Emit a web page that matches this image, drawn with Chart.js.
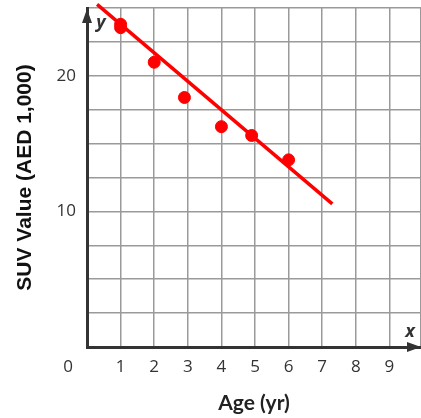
<!DOCTYPE html>
<html>
<head>
<meta charset="utf-8">
<script src="https://cdn.jsdelivr.net/npm/chart.js@4/dist/chart.umd.min.js"></script>
<style>
  html, body { margin: 0; padding: 0; background: #fff; }
  #wrap { width: 421px; height: 418px; }
</style>
</head>
<body>
<div id="wrap"><canvas id="chart" width="421" height="418"></canvas></div>
<script>
// SUV resale value by age, with a line of fit
const ages = [1, 1, 2, 2.9, 4, 4.9, 6];
const values = [23.8, 23.55, 21.0, 18.4, 16.25, 15.6, 13.8];
const fitAges = [0.3, 7.3];
const fitValues = [25.27, 10.56];
const xTickLabels = ['1', '2', '3', '4', '5', '6', '7', '8', '9'];
const yTickLabels = ['10', '20'];
const xGridValues = [0, 1, 2, 3, 4, 5, 6, 7, 8, 9, 9.94];

const RED = '#ff0000';
const INK = '#333333';

// keep the plot area flush with the canvas edges
function noEdgePadding(scale) {
  scale.paddingTop = 0;
  scale.paddingBottom = 0;
  scale.paddingLeft = 0;
  scale.paddingRight = 0;
}

// Arrowheads, axis letters and the shared origin label
const axisDecor = {
  id: 'axisDecor',
  afterDraw(chart) {
    const { ctx, chartArea } = chart;
    const x0 = chart.scales.x.getPixelForValue(0);
    const y0 = chart.scales.y.getPixelForValue(0);
    ctx.save();
    ctx.fillStyle = INK;
    // y axis arrow
    ctx.beginPath();
    ctx.moveTo(x0, chartArea.top + 1);
    ctx.lineTo(x0 - 5, chartArea.top + 15);
    ctx.lineTo(x0 + 5, chartArea.top + 15);
    ctx.closePath();
    ctx.fill();
    // x axis arrow
    ctx.beginPath();
    ctx.moveTo(chartArea.right, y0);
    ctx.lineTo(chartArea.right - 14, y0 - 5);
    ctx.lineTo(chartArea.right - 14, y0 + 5);
    ctx.closePath();
    ctx.fill();
    // axis letters
    ctx.font = 'italic bold 18px "Open Sans"';
    ctx.textAlign = 'center';
    ctx.textBaseline = 'middle';
    ctx.fillText('y', x0 + 14, chartArea.top + 15);
    ctx.fillText('x', chartArea.right - 11, y0 - 15);
    // origin
    ctx.font = '17px "Open Sans"';
    ctx.fillText('0', x0 - 19, y0 + 20);
    ctx.restore();
  }
};

new Chart(document.getElementById('chart'), {
  type: 'scatter',
  data: {
    datasets: [
      {
        type: 'line',
        data: fitAges.map((a, i) => ({ x: a, y: fitValues[i] })),
        borderColor: RED,
        borderWidth: 3.5,
        pointRadius: 0,
        fill: false,
        clip: false,
        order: 2
      },
      {
        data: ages.map((a, i) => ({ x: a, y: values[i] })),
        backgroundColor: RED,
        borderColor: RED,
        pointRadius: 6,
        pointHoverRadius: 6,
        clip: false,
        order: 1
      }
    ]
  },
  options: {
    responsive: false,
    animation: false,
    events: [],
    layout: { autoPadding: false, padding: { top: 8, right: 0, bottom: 0, left: 0 } },
    plugins: { legend: { display: false }, tooltip: { enabled: false } },
    scales: {
      x: {
        type: 'linear',
        min: 0,
        max: 9.94,
        afterBuildTicks(scale) { scale.ticks = xGridValues.map((v) => ({ value: v })); },
        afterFit(scale) { scale.height = 71; noEdgePadding(scale); },
        grid: { color: '#9a9a9a', lineWidth: 1.5, drawTicks: false },
        border: { display: true, color: INK, width: 3 },
        ticks: {
          padding: 10,
          autoSkip: false,
          maxRotation: 0,
          color: INK,
          font: { family: 'Open Sans', size: 17 },
          callback: (v) => xTickLabels.includes(String(v)) ? String(v) : ''
        },
        title: {
          display: true,
          text: 'Age (yr)',
          color: '#222',
          font: { family: 'Lato', size: 21, weight: 'bold' },
          padding: { top: 0, bottom: 2 }
        }
      },
      y: {
        type: 'linear',
        min: 0,
        max: 25,
        afterFit(scale) { scale.width = 87; noEdgePadding(scale); },
        grid: { color: '#9a9a9a', lineWidth: 1.5, drawTicks: false },
        border: { display: true, color: INK, width: 3 },
        ticks: {
          stepSize: 2.5,
          padding: 11,
          autoSkip: false,
          color: INK,
          font: { family: 'Open Sans', size: 17 },
          callback: (v) => yTickLabels.includes(String(v)) ? String(v) : ''
        },
        title: {
          display: true,
          text: 'SUV Value (AED 1,000)',
          color: '#111',
          font: { family: 'Liberation Sans', size: 21, weight: 'bold' },
          padding: { top: 13, bottom: 0 }
        }
      }
    }
  },
  plugins: [axisDecor]
});
</script>
</body>
</html>
